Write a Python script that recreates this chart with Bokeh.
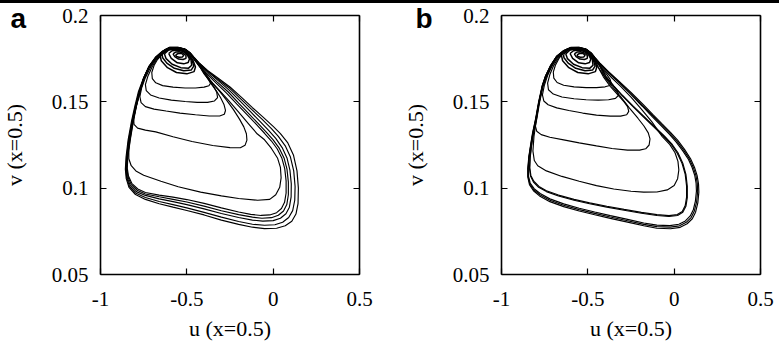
from bokeh.plotting import figure
from bokeh.models import Range1d, FixedTicker, LinearAxis, Label, Div
from bokeh.layouts import row, column
from bokeh.embed import file_html
from bokeh.resources import INLINE

# ---------------- axes ----------------
X_TICKS = [-1, -0.5, 0, 0.5]
X_TICK_LABELS = ["-1", "-0.5", "0", "0.5"]
Y_TICKS = [0.05, 0.1, 0.15, 0.2]
Y_TICK_LABELS = ["0.05", "0.1", "0.15", "0.2"]
X_MIN, X_MAX = -1.0, 0.5
Y_MIN, Y_MAX = 0.05, 0.2
X_LABEL = "u (x=0.5)"
Y_LABEL = "v (x=0.5)"
PANEL_LETTERS = ["a", "b"]

# ---------------- panel a : trajectory loops (u, v) ----------------
A_O1_U = [-0.51,-0.55,-0.60,-0.64,-0.68,-0.72,-0.75,-0.78,-0.80,-0.82,-0.84,-0.852,-0.856,-0.851,-0.835,-0.80,-0.74,-0.66,-0.58,-0.50,-0.40,-0.30,-0.20,-0.12,-0.05,0.02,0.07,0.108,0.132,0.144,0.146,0.138,0.118,0.085,0.042,0.0,-0.06,-0.12,-0.18,-0.25,-0.32,-0.38,-0.43,-0.46,-0.48,-0.51]
A_O1_V = [0.1806,0.1816,0.1816,0.1795,0.1760,0.1705,0.1640,0.1560,0.1480,0.1390,0.1280,0.1180,0.1110,0.1055,0.1005,0.0965,0.0935,0.0910,0.0890,0.0871,0.0845,0.0815,0.0790,0.0774,0.0766,0.0768,0.0782,0.0808,0.0850,0.0910,0.1000,0.1100,0.1190,0.1262,0.1316,0.1358,0.1413,0.1466,0.1523,0.1586,0.1638,0.1682,0.1727,0.1760,0.1784,0.1806]
A_O2_U = [-0.51,-0.55,-0.60,-0.64,-0.68,-0.72,-0.75,-0.777,-0.797,-0.817,-0.837,-0.849,-0.853,-0.848,-0.832,-0.797,-0.74,-0.66,-0.58,-0.50,-0.40,-0.30,-0.20,-0.12,-0.05,0.01,0.055,0.09,0.113,0.125,0.127,0.119,0.100,0.070,0.030,-0.01,-0.065,-0.125,-0.185,-0.25,-0.32,-0.38,-0.43,-0.46,-0.48,-0.51]
A_O2_V = [0.1805,0.1815,0.1815,0.1793,0.1758,0.1703,0.1638,0.1558,0.1478,0.1388,0.1278,0.1178,0.1110,0.1058,0.1010,0.0972,0.0946,0.0923,0.0905,0.0886,0.0860,0.0832,0.0807,0.0791,0.0785,0.0788,0.0803,0.0830,0.0870,0.0930,0.1010,0.1100,0.1180,0.1245,0.1300,0.1345,0.1400,0.1456,0.1514,0.1577,0.1631,0.1679,0.1725,0.1758,0.1782,0.1805]
A_O3_U = [-0.51,-0.55,-0.60,-0.64,-0.68,-0.72,-0.75,-0.775,-0.795,-0.815,-0.834,-0.846,-0.850,-0.845,-0.828,-0.793,-0.74,-0.66,-0.58,-0.50,-0.40,-0.30,-0.20,-0.12,-0.06,0.00,0.042,0.074,0.094,0.104,0.105,0.097,0.080,0.052,0.015,-0.025,-0.075,-0.13,-0.19,-0.255,-0.32,-0.38,-0.43,-0.46,-0.48,-0.51]
A_O3_V = [0.1804,0.1814,0.1814,0.1792,0.1757,0.1702,0.1637,0.1557,0.1477,0.1387,0.1277,0.1177,0.1112,0.1062,0.1016,0.0980,0.0958,0.0938,0.0922,0.0905,0.0880,0.0853,0.0830,0.0815,0.0809,0.0812,0.0826,0.0852,0.0890,0.0950,0.1025,0.1105,0.1175,0.1235,0.1288,0.1333,0.1385,0.1442,0.1503,0.1568,0.1624,0.1677,0.1723,0.1757,0.1781,0.1804]
A_O4_U = [-0.51,-0.55,-0.60,-0.64,-0.68,-0.72,-0.75,-0.774,-0.794,-0.813,-0.832,-0.844,-0.847,-0.841,-0.823,-0.788,-0.74,-0.66,-0.58,-0.50,-0.40,-0.30,-0.20,-0.12,-0.065,-0.01,0.030,0.060,0.079,0.088,0.088,0.080,0.063,0.036,0.000,-0.04,-0.09,-0.14,-0.20,-0.26,-0.325,-0.385,-0.43,-0.46,-0.48,-0.51]
A_O4_V = [0.1804,0.1814,0.1814,0.1791,0.1756,0.1701,0.1636,0.1556,0.1476,0.1386,0.1276,0.1176,0.1114,0.1066,0.1022,0.0988,0.0966,0.0950,0.0935,0.0920,0.0896,0.0869,0.0847,0.0832,0.0826,0.0829,0.0843,0.0868,0.0905,0.0962,0.1035,0.1110,0.1175,0.1230,0.1280,0.1325,0.1378,0.1430,0.1493,0.1557,0.1616,0.1672,0.1721,0.1755,0.1780,0.1804]
A_O5_U = [-0.51,-0.55,-0.60,-0.64,-0.68,-0.72,-0.75,-0.773,-0.793,-0.812,-0.830,-0.842,-0.845,-0.838,-0.819,-0.784,-0.74,-0.66,-0.58,-0.50,-0.40,-0.30,-0.20,-0.13,-0.07,-0.02,0.020,0.048,0.066,0.075,0.075,0.067,0.050,0.024,-0.010,-0.05,-0.10,-0.15,-0.21,-0.27,-0.33,-0.39,-0.43,-0.46,-0.48,-0.51]
A_O5_V = [0.1803,0.1813,0.1813,0.1790,0.1755,0.1700,0.1635,0.1555,0.1475,0.1385,0.1275,0.1175,0.1116,0.1070,0.1028,0.0995,0.0975,0.0960,0.0948,0.0934,0.0912,0.0886,0.0862,0.0848,0.0842,0.0845,0.0858,0.0882,0.0918,0.0972,0.1042,0.1113,0.1175,0.1227,0.1273,0.1318,0.1372,0.1425,0.1487,0.1550,0.1608,0.1668,0.1719,0.1754,0.1779,0.1803]
A_I6_U = [-0.51,-0.55,-0.60,-0.64,-0.68,-0.72,-0.75,-0.772,-0.792,-0.810,-0.826,-0.836,-0.836,-0.822,-0.795,-0.75,-0.65,-0.55,-0.42,-0.30,-0.20,-0.09,-0.02,0.015,0.038,0.046,0.042,0.025,-0.01,-0.05,-0.093,-0.14,-0.20,-0.26,-0.31,-0.35,-0.39,-0.43,-0.46,-0.48,-0.51]
A_I6_V = [0.1803,0.1813,0.1812,0.1789,0.1754,0.1699,0.1634,0.1554,0.1474,0.1384,0.1290,0.1220,0.1170,0.1130,0.1100,0.1075,0.1040,0.1008,0.0977,0.0955,0.0940,0.0930,0.0935,0.0962,0.1005,0.1060,0.1120,0.1175,0.1230,0.1280,0.1315,0.1370,0.1440,0.1510,0.1565,0.1608,0.1655,0.1717,0.1753,0.1778,0.1803]
A_I5_U = [-0.51,-0.55,-0.60,-0.64,-0.68,-0.72,-0.75,-0.775,-0.795,-0.808,-0.806,-0.785,-0.74,-0.68,-0.58,-0.47,-0.35,-0.25,-0.19,-0.163,-0.152,-0.155,-0.17,-0.195,-0.23,-0.27,-0.31,-0.35,-0.39,-0.43,-0.46,-0.48,-0.51]
A_I5_V = [0.1803,0.1812,0.1811,0.1786,0.1750,0.1693,0.1626,0.1545,0.1465,0.1405,0.1370,0.1348,0.1336,0.1326,0.1298,0.1270,0.1247,0.1235,0.1234,0.1248,0.1278,0.1315,0.1355,0.1400,0.1455,0.1510,0.1560,0.1605,0.1655,0.1715,0.1752,0.1777,0.1803]
A_I4_U = [-0.51,-0.55,-0.60,-0.64,-0.68,-0.71,-0.74,-0.762,-0.772,-0.765,-0.74,-0.69,-0.62,-0.54,-0.45,-0.37,-0.31,-0.283,-0.276,-0.285,-0.305,-0.33,-0.36,-0.39,-0.43,-0.46,-0.48,-0.51]
A_I4_V = [0.1802,0.1812,0.1811,0.1782,0.1746,0.1700,0.1640,0.1580,0.1530,0.1495,0.1472,0.1458,0.1447,0.1435,0.1425,0.1418,0.1418,0.1428,0.1450,0.1485,0.1525,0.1565,0.1605,0.1650,0.1713,0.1751,0.1776,0.1802]
A_I3_U = [-0.51,-0.55,-0.60,-0.64,-0.675,-0.70,-0.725,-0.74,-0.735,-0.71,-0.66,-0.59,-0.51,-0.44,-0.38,-0.34,-0.322,-0.327,-0.345,-0.37,-0.40,-0.43,-0.46,-0.48,-0.51]
A_I3_V = [0.1801,0.1811,0.1810,0.1780,0.1745,0.1705,0.1650,0.1600,0.1565,0.1540,0.1522,0.1510,0.1502,0.1497,0.1497,0.1505,0.1525,0.1555,0.1590,0.1625,0.1662,0.1711,0.1750,0.1775,0.1801]
A_I2_U = [-0.51,-0.55,-0.60,-0.64,-0.67,-0.69,-0.703,-0.70,-0.68,-0.64,-0.58,-0.51,-0.45,-0.40,-0.372,-0.363,-0.37,-0.39,-0.43,-0.46,-0.48,-0.51]
A_I2_V = [0.1800,0.1810,0.1809,0.1778,0.1745,0.1710,0.1670,0.1635,0.1610,0.1594,0.1585,0.1580,0.1580,0.1585,0.1593,0.1608,0.1635,0.1662,0.1708,0.1748,0.1774,0.1800]
A_R0_U = [-0.565,-0.550,-0.530,-0.518,-0.525,-0.545,-0.560,-0.565]
A_R0_V = [0.1772,0.1780,0.1780,0.1770,0.1760,0.1758,0.1763,0.1772]
A_R1_U = [-0.580,-0.565,-0.545,-0.522,-0.505,-0.505,-0.522,-0.548,-0.570,-0.580]
A_R1_V = [0.1778,0.1788,0.1790,0.1783,0.1768,0.1752,0.1745,0.1748,0.1762,0.1778]
A_R2_U = [-0.605,-0.585,-0.555,-0.522,-0.497,-0.485,-0.492,-0.518,-0.555,-0.590,-0.605]
A_R2_V = [0.1780,0.1796,0.1800,0.1792,0.1772,0.1748,0.1728,0.1720,0.1726,0.1752,0.1780]
A_R3_U = [-0.630,-0.605,-0.565,-0.522,-0.495,-0.476,-0.472,-0.490,-0.535,-0.585,-0.620,-0.630]
A_R3_V = [0.1778,0.1800,0.1806,0.1798,0.1774,0.1744,0.1712,0.1695,0.1698,0.1718,0.1750,0.1778]
A_R5_U = [-0.643,-0.615,-0.570,-0.523,-0.492,-0.470,-0.460,-0.474,-0.518,-0.572,-0.616,-0.640,-0.643]
A_R5_V = [0.1774,0.1802,0.1807,0.1799,0.1775,0.1743,0.1707,0.1685,0.1680,0.1694,0.1724,0.1755,0.1774]
A_R4_U = [-0.655,-0.625,-0.575,-0.525,-0.490,-0.465,-0.450,-0.458,-0.500,-0.560,-0.612,-0.648,-0.655]
A_R4_V = [0.1770,0.1803,0.1807,0.1800,0.1776,0.1742,0.1702,0.1675,0.1662,0.1670,0.1698,0.1738,0.1770]

# ---------------- panel b : trajectory loops (u, v) ----------------
B_O1_U = [-0.51,-0.55,-0.60,-0.64,-0.68,-0.716,-0.745,-0.764,-0.785,-0.803,-0.820,-0.832,-0.842,-0.848,-0.848,-0.838,-0.815,-0.78,-0.72,-0.64,-0.55,-0.46,-0.37,-0.27,-0.176,-0.10,-0.021,0.035,0.075,0.105,0.124,0.137,0.143,0.141,0.133,0.118,0.095,0.060,0.020,-0.02,-0.07,-0.12,-0.18,-0.25,-0.32,-0.38,-0.43,-0.46,-0.48,-0.51]
B_O1_V = [0.1806,0.1816,0.1815,0.1797,0.1765,0.1710,0.1650,0.1595,0.1500,0.1400,0.1320,0.1247,0.1180,0.1112,0.1065,0.1020,0.0985,0.0955,0.0922,0.0893,0.0868,0.0846,0.0825,0.0803,0.0782,0.0768,0.0765,0.0773,0.0794,0.0823,0.0861,0.0915,0.0977,0.1025,0.1073,0.1120,0.1170,0.1225,0.1278,0.1322,0.1372,0.1423,0.1485,0.1555,0.1620,0.1675,0.1724,0.1758,0.1783,0.1806]
B_O2_U = [-0.51,-0.55,-0.60,-0.64,-0.68,-0.716,-0.745,-0.763,-0.784,-0.802,-0.819,-0.831,-0.841,-0.846,-0.846,-0.836,-0.813,-0.778,-0.72,-0.64,-0.55,-0.46,-0.37,-0.27,-0.176,-0.10,-0.023,0.031,0.070,0.099,0.117,0.130,0.136,0.134,0.126,0.111,0.089,0.055,0.016,-0.024,-0.073,-0.123,-0.183,-0.252,-0.32,-0.38,-0.43,-0.46,-0.48,-0.51]
B_O2_V = [0.1805,0.1815,0.1814,0.1796,0.1764,0.1709,0.1649,0.1594,0.1499,0.1399,0.1319,0.1246,0.1180,0.1114,0.1068,0.1025,0.0991,0.0962,0.0930,0.0901,0.0876,0.0854,0.0833,0.0811,0.0790,0.0777,0.0774,0.0782,0.0802,0.0831,0.0868,0.0920,0.0980,0.1027,0.1074,0.1120,0.1168,0.1220,0.1272,0.1317,0.1367,0.1418,0.1480,0.1550,0.1616,0.1672,0.1722,0.1757,0.1782,0.1805]
B_O3_U = [-0.51,-0.55,-0.60,-0.64,-0.68,-0.716,-0.745,-0.763,-0.783,-0.801,-0.818,-0.830,-0.840,-0.845,-0.844,-0.834,-0.811,-0.776,-0.72,-0.64,-0.55,-0.46,-0.37,-0.27,-0.176,-0.10,-0.025,0.027,0.065,0.093,0.111,0.123,0.129,0.127,0.119,0.104,0.083,0.050,0.012,-0.027,-0.076,-0.126,-0.186,-0.254,-0.32,-0.38,-0.43,-0.46,-0.48,-0.51]
B_O3_V = [0.1804,0.1814,0.1813,0.1795,0.1763,0.1708,0.1648,0.1593,0.1498,0.1398,0.1318,0.1245,0.1180,0.1116,0.1071,0.1030,0.0997,0.0969,0.0938,0.0909,0.0884,0.0862,0.0841,0.0819,0.0798,0.0786,0.0783,0.0791,0.0810,0.0839,0.0875,0.0925,0.0983,0.1029,0.1075,0.1120,0.1166,0.1216,0.1267,0.1312,0.1362,0.1413,0.1476,0.1546,0.1612,0.1669,0.1720,0.1756,0.1781,0.1804]
B_T1_U = [-0.51,-0.55,-0.60,-0.64,-0.68,-0.714,-0.743,-0.762,-0.783,-0.800,-0.816,-0.827,-0.835,-0.838,-0.832,-0.815,-0.785,-0.74,-0.67,-0.58,-0.49,-0.39,-0.29,-0.19,-0.10,-0.03,0.02,0.050,0.068,0.076,0.076,0.068,0.050,0.022,-0.015,-0.06,-0.12,-0.18,-0.24,-0.30,-0.35,-0.395,-0.43,-0.46,-0.48,-0.51]
B_T1_V = [0.1804,0.1813,0.1812,0.1794,0.1763,0.1708,0.1648,0.1593,0.1498,0.1398,0.1318,0.1245,0.1175,0.1115,0.1070,0.1035,0.1005,0.0980,0.0955,0.0930,0.0910,0.0890,0.0872,0.0855,0.0842,0.0836,0.0842,0.0860,0.0895,0.0945,0.1010,0.1080,0.1145,0.1205,0.1258,0.1305,0.1362,0.1420,0.1478,0.1538,0.1592,0.1648,0.1712,0.1752,0.1779,0.1804]
B_T2_U = [-0.51,-0.55,-0.60,-0.64,-0.68,-0.714,-0.743,-0.762,-0.782,-0.799,-0.815,-0.826,-0.834,-0.836,-0.830,-0.813,-0.783,-0.74,-0.67,-0.58,-0.49,-0.39,-0.29,-0.19,-0.10,-0.03,0.018,0.047,0.064,0.072,0.072,0.064,0.046,0.018,-0.018,-0.063,-0.12,-0.18,-0.24,-0.30,-0.35,-0.395,-0.43,-0.46,-0.48,-0.51]
B_T2_V = [0.1803,0.1812,0.1811,0.1793,0.1762,0.1707,0.1647,0.1592,0.1497,0.1397,0.1317,0.1245,0.1177,0.1118,0.1074,0.1040,0.1010,0.0985,0.0960,0.0935,0.0915,0.0895,0.0877,0.0860,0.0847,0.0841,0.0847,0.0865,0.0899,0.0948,0.1012,0.1080,0.1143,0.1202,0.1255,0.1302,0.1357,0.1415,0.1474,0.1535,0.1589,0.1645,0.1710,0.1751,0.1778,0.1803]
B_I6_U = [-0.51,-0.55,-0.60,-0.64,-0.68,-0.713,-0.742,-0.761,-0.782,-0.798,-0.812,-0.818,-0.810,-0.79,-0.74,-0.65,-0.55,-0.45,-0.35,-0.25,-0.176,-0.10,-0.04,0.000,0.020,0.027,0.022,0.005,-0.025,-0.07,-0.13,-0.19,-0.25,-0.31,-0.36,-0.40,-0.43,-0.46,-0.48,-0.51]
B_I6_V = [0.1803,0.1812,0.1811,0.1793,0.1761,0.1706,0.1646,0.1591,0.1496,0.1396,0.1300,0.1215,0.1160,0.1130,0.1100,0.1068,0.1040,0.1015,0.0995,0.0982,0.0977,0.0978,0.0990,0.1015,0.1055,0.1105,0.1155,0.1205,0.1252,0.1300,0.1385,0.1458,0.1527,0.1590,0.1638,0.1680,0.1712,0.1750,0.1777,0.1803]
B_I5_U = [-0.51,-0.55,-0.60,-0.64,-0.68,-0.712,-0.740,-0.760,-0.780,-0.796,-0.804,-0.796,-0.77,-0.72,-0.64,-0.55,-0.45,-0.36,-0.27,-0.20,-0.165,-0.145,-0.140,-0.150,-0.175,-0.21,-0.26,-0.31,-0.36,-0.40,-0.43,-0.46,-0.48,-0.51]
B_I5_V = [0.1802,0.1811,0.1810,0.1792,0.1759,0.1704,0.1644,0.1589,0.1494,0.1400,0.1360,0.1330,0.1310,0.1295,0.1280,0.1262,0.1245,0.1230,0.1220,0.1220,0.1228,0.1250,0.1285,0.1320,0.1360,0.1405,0.1465,0.1530,0.1590,0.1640,0.1705,0.1748,0.1776,0.1802]
B_I4_U = [-0.51,-0.55,-0.60,-0.64,-0.675,-0.705,-0.732,-0.752,-0.763,-0.755,-0.73,-0.68,-0.61,-0.53,-0.45,-0.37,-0.31,-0.275,-0.263,-0.270,-0.29,-0.33,-0.37,-0.41,-0.44,-0.46,-0.48,-0.51]
B_I4_V = [0.1801,0.1810,0.1809,0.1790,0.1757,0.1712,0.1655,0.1595,0.1540,0.1505,0.1483,0.1465,0.1450,0.1435,0.1423,0.1417,0.1417,0.1425,0.1445,0.1472,0.1500,0.1545,0.1590,0.1645,0.1700,0.1745,0.1775,0.1801]
B_I3_U = [-0.51,-0.55,-0.60,-0.64,-0.672,-0.698,-0.720,-0.733,-0.728,-0.70,-0.65,-0.58,-0.51,-0.44,-0.38,-0.34,-0.322,-0.328,-0.348,-0.378,-0.41,-0.44,-0.46,-0.48,-0.51]
B_I3_V = [0.1800,0.1809,0.1808,0.1788,0.1752,0.1710,0.1658,0.1608,0.1570,0.1545,0.1528,0.1518,0.1512,0.1510,0.1512,0.1520,0.1538,0.1560,0.1588,0.1620,0.1655,0.1700,0.1743,0.1774,0.1800]
B_I2_U = [-0.51,-0.55,-0.60,-0.64,-0.668,-0.688,-0.700,-0.697,-0.678,-0.64,-0.58,-0.51,-0.45,-0.40,-0.373,-0.365,-0.372,-0.392,-0.43,-0.46,-0.48,-0.51]
B_I2_V = [0.1799,0.1808,0.1806,0.1786,0.1750,0.1712,0.1672,0.1637,0.1612,0.1596,0.1587,0.1582,0.1582,0.1587,0.1595,0.1610,0.1632,0.1660,0.1706,0.1746,0.1772,0.1799]
B_R0_U = [-0.563,-0.548,-0.528,-0.516,-0.523,-0.543,-0.558,-0.563]
B_R0_V = [0.1772,0.1780,0.1780,0.1770,0.1760,0.1758,0.1763,0.1772]
B_R1_U = [-0.578,-0.563,-0.543,-0.520,-0.503,-0.503,-0.520,-0.546,-0.568,-0.578]
B_R1_V = [0.1778,0.1788,0.1790,0.1783,0.1768,0.1752,0.1745,0.1748,0.1762,0.1778]
B_R2_U = [-0.603,-0.583,-0.553,-0.520,-0.495,-0.483,-0.490,-0.516,-0.553,-0.588,-0.603]
B_R2_V = [0.1780,0.1796,0.1800,0.1792,0.1772,0.1748,0.1728,0.1720,0.1726,0.1752,0.1780]
B_R3_U = [-0.628,-0.603,-0.563,-0.520,-0.493,-0.474,-0.470,-0.488,-0.533,-0.583,-0.618,-0.628]
B_R3_V = [0.1778,0.1800,0.1806,0.1798,0.1774,0.1744,0.1712,0.1695,0.1698,0.1718,0.1750,0.1778]
B_R5_U = [-0.641,-0.613,-0.568,-0.521,-0.490,-0.468,-0.458,-0.472,-0.516,-0.570,-0.614,-0.638,-0.641]
B_R5_V = [0.1774,0.1802,0.1807,0.1799,0.1775,0.1743,0.1707,0.1685,0.1680,0.1694,0.1724,0.1755,0.1774]
B_R4_U = [-0.653,-0.623,-0.573,-0.523,-0.488,-0.463,-0.448,-0.456,-0.498,-0.558,-0.610,-0.646,-0.653]
B_R4_V = [0.1770,0.1803,0.1807,0.1800,0.1776,0.1742,0.1702,0.1675,0.1662,0.1670,0.1698,0.1738,0.1770]

PANEL_A_U = [A_O1_U, A_O2_U, A_O3_U, A_O4_U, A_O5_U, A_I6_U, A_I5_U, A_I4_U, A_I3_U, A_I2_U]
PANEL_A_V = [A_O1_V, A_O2_V, A_O3_V, A_O4_V, A_O5_V, A_I6_V, A_I5_V, A_I4_V, A_I3_V, A_I2_V]
PANEL_A_RING_U = [A_R0_U, A_R1_U, A_R2_U, A_R3_U, A_R5_U, A_R4_U]
PANEL_A_RING_V = [A_R0_V, A_R1_V, A_R2_V, A_R3_V, A_R5_V, A_R4_V]
PANEL_B_U = [B_O1_U, B_O2_U, B_O3_U, B_T1_U, B_T2_U, B_I6_U, B_I5_U, B_I4_U, B_I3_U, B_I2_U]
PANEL_B_V = [B_O1_V, B_O2_V, B_O3_V, B_T1_V, B_T2_V, B_I6_V, B_I5_V, B_I4_V, B_I3_V, B_I2_V]
PANEL_B_RING_U = [B_R0_U, B_R1_U, B_R2_U, B_R3_U, B_R5_U, B_R4_U]
PANEL_B_RING_V = [B_R0_V, B_R1_V, B_R2_V, B_R3_V, B_R5_V, B_R4_V]

SERIF = "'Liberation Serif', 'Times New Roman', serif"
SANS = "'Liberation Sans', Arial, sans-serif"

# layout in pixels (box of the plot inside each figure)
FIG_H = 343
BOX = 259
BOX_TOP = 12


def style_axis(ax, ticks, labels, show_labels, label_text=None):
    ax.ticker = FixedTicker(ticks=ticks)
    ax.major_label_overrides = {t: l for t, l in zip(ticks, labels)}
    ax.major_tick_in = 6
    ax.major_tick_out = 0
    ax.minor_tick_line_color = None
    ax.major_tick_line_color = "black"
    ax.major_tick_line_width = 1.2
    ax.axis_line_color = "black"
    ax.axis_line_width = 1.6
    ax.major_label_text_font = SERIF
    ax.major_label_text_color = "black"
    ax.axis_label_text_font = SERIF
    ax.axis_label_text_font_style = "normal"
    ax.axis_label_text_color = "black"
    ax.axis_label_text_font_size = "22px"
    if show_labels:
        ax.major_label_text_font_size = "21px"
    else:
        ax.major_label_text_font_size = "0px"
        ax.major_label_standoff = 0
    if label_text:
        ax.axis_label = label_text


def make_panel(us, vs, ring_us, ring_vs, letter, width, box_left, letter_u):
    ppu_x = BOX / (X_MAX - X_MIN)
    ppu_y = BOX / (Y_MAX - Y_MIN)
    x0 = X_MIN - box_left / ppu_x
    x1 = x0 + width / ppu_x
    y1 = Y_MAX + BOX_TOP / ppu_y
    y0 = y1 - FIG_H / ppu_y
    p = figure(frame_width=width, frame_height=FIG_H,
               x_range=Range1d(x0, x1), y_range=Range1d(y0, y1),
               output_backend="svg", toolbar_location=None,
               min_border=0, min_border_left=0, min_border_right=0,
               min_border_top=0, min_border_bottom=0,
               background_fill_color="white", border_fill_color="white",
               x_axis_location=None, y_axis_location=None)
    p.grid.visible = False
    p.outline_line_color = None

    bottom = LinearAxis(fixed_location=Y_MIN, bounds=(X_MIN, X_MAX))
    style_axis(bottom, X_TICKS, X_TICK_LABELS, True, X_LABEL)
    bottom.major_label_standoff = 17
    bottom.axis_label_standoff = 7
    p.add_layout(bottom, "below")

    left = LinearAxis(fixed_location=X_MIN, bounds=(Y_MIN, Y_MAX))
    style_axis(left, Y_TICKS, Y_TICK_LABELS, True, Y_LABEL)
    left.major_label_standoff = 12
    left.axis_label_standoff = 22
    p.add_layout(left, "left")

    top = LinearAxis(fixed_location=Y_MAX, bounds=(X_MIN, X_MAX))
    style_axis(top, X_TICKS, X_TICK_LABELS, False)
    p.add_layout(top, "above")

    right = LinearAxis(fixed_location=X_MAX, bounds=(Y_MIN, Y_MAX))
    style_axis(right, Y_TICKS, Y_TICK_LABELS, False)
    p.add_layout(right, "right")

    p.multi_line(xs=us, ys=vs, line_color="black", line_width=1.15)
    p.multi_line(xs=ring_us, ys=ring_vs, line_color="black", line_width=1.5)

    p.add_layout(Label(x=letter_u, y=0.1983, text=letter, text_font=SANS,
                       text_font_style="bold", text_font_size="28px",
                       text_color="black", text_baseline="middle"))
    return p


pa = make_panel(PANEL_A_U, PANEL_A_V, PANEL_A_RING_U, PANEL_A_RING_V,
                PANEL_LETTERS[0], 390, 100, -1.521)
pb = make_panel(PANEL_B_U, PANEL_B_V, PANEL_B_RING_U, PANEL_B_RING_V,
                PANEL_LETTERS[1], 389, 111, -1.498)

band = Div(text="", width=779, height=3, margin=(0, 0, 0, 0),
           styles={"background-color": "black"})
layout = column(band, row(pa, pb), spacing=0)

open("out.html", "w").write(file_html(layout, INLINE))
